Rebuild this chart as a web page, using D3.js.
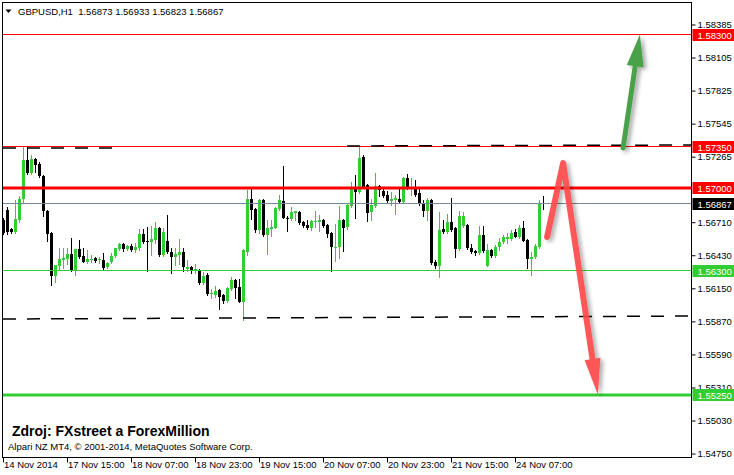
<!DOCTYPE html>
<html><head><meta charset="utf-8">
<script src="https://cdn.jsdelivr.net/npm/d3@7"></script>
<style>html,body{margin:0;padding:0;background:#fff;} svg{display:block;font-family:"Liberation Sans",Arial,sans-serif;}</style>
</head><body><svg id="c" width="734" height="475"></svg>
<script>
// ---------- DATA ----------
const symbolTitle = "GBPUSD,H1";
const lastOHLC = [1.56873, 1.56933, 1.56823, 1.56867];

const openP = [
1.56729,1.56814,1.56653,1.56627,1.56729,1.56907,1.57237,1.57127,1.57246,1.57203,
1.57102,1.56805,1.56619,1.56254,1.56339,1.56390,1.56398,1.56441,1.56297,1.56483,
1.56424,1.56373,1.56390,1.56407,1.56390,1.56390,1.56331,1.56373,1.56424,1.56483,
1.56525,1.56483,1.56508,1.56475,1.56491,1.56610,1.56551,1.56542,1.56559,1.56661,
1.56432,1.56551,1.56458,1.56415,1.56432,1.56458,1.56314,1.56331,1.56297,1.56297,
1.56195,1.56263,1.56102,1.56093,1.56136,1.56093,1.56042,1.56144,1.56220,1.56161,
1.56034,1.56458,1.56907,1.56822,1.56644,1.56898,1.56602,1.56653,1.56661,1.56822,
1.56890,1.56746,1.56737,1.56788,1.56797,1.56712,1.56686,1.56661,1.56712,1.56712,
1.56729,1.56686,1.56619,1.56492,1.56500,1.56729,1.56669,1.56848,1.56992,1.56966,
1.57263,1.57025,1.56797,1.56848,1.57017,1.56975,1.56941,1.56890,1.56898,1.56907,
1.56881,1.57085,1.57000,1.57008,1.56958,1.56873,1.56805,1.56898,1.56373,1.56339,
1.56653,1.56627,1.56712,1.56661,1.56483,1.56678,1.56686,1.56492,1.56466,1.56449,
1.56602,1.56339,1.56475,1.56424,1.56500,1.56542,1.56568,1.56568,1.56627,1.56585,
1.56661,1.56559,1.56398,1.56415,1.56500,1.56873
];
const highP = [
1.56746,1.56839,1.56661,1.56898,1.56932,1.57347,1.57347,1.57280,1.57254,1.57220,
1.57110,1.56814,1.56627,1.56347,1.56491,1.56491,1.56491,1.56576,1.56483,1.56559,
1.56491,1.56475,1.56432,1.56415,1.56415,1.56449,1.56373,1.56449,1.56491,1.56534,
1.56534,1.56517,1.56525,1.56534,1.56653,1.56653,1.56669,1.56678,1.56712,1.56669,
1.56661,1.56771,1.56491,1.56491,1.56568,1.56492,1.56390,1.56339,1.56356,1.56314,
1.56288,1.56280,1.56144,1.56169,1.56144,1.56102,1.56161,1.56246,1.56229,1.56229,
1.56483,1.56983,1.56992,1.56831,1.56907,1.56907,1.56729,1.56729,1.56839,1.56941,
1.57186,1.56763,1.56839,1.56805,1.56805,1.56720,1.56729,1.56729,1.56805,1.56771,
1.56737,1.56695,1.56627,1.56695,1.56848,1.56737,1.56864,1.57051,1.57110,1.57356,
1.57280,1.57034,1.56907,1.57127,1.57025,1.57008,1.56975,1.56966,1.56941,1.56992,
1.57093,1.57119,1.57085,1.57068,1.57008,1.56898,1.56915,1.56907,1.56390,1.56797,
1.56729,1.56780,1.56915,1.56669,1.56805,1.56797,1.56695,1.56525,1.56475,1.56678,
1.56678,1.56525,1.56483,1.56517,1.56576,1.56602,1.56619,1.56644,1.56653,1.56686,
1.56720,1.56568,1.56458,1.56525,1.56898,1.56933
];
const lowP = [
1.56610,1.56610,1.56619,1.56619,1.56712,1.56881,1.57119,1.57119,1.57136,1.57093,
1.56763,1.56551,1.56178,1.56203,1.56305,1.56322,1.56356,1.56297,1.56263,1.56407,
1.56373,1.56364,1.56373,1.56373,1.56364,1.56314,1.56322,1.56364,1.56415,1.56475,
1.56466,1.56475,1.56466,1.56458,1.56475,1.56534,1.56297,1.56432,1.56534,1.56424,
1.56424,1.56449,1.56280,1.56347,1.56356,1.56297,1.56297,1.56280,1.56280,1.56186,
1.56186,1.56093,1.56068,1.56076,1.55975,1.56025,1.56034,1.56136,1.56068,1.56034,
1.55881,1.56432,1.56737,1.56627,1.56619,1.56593,1.56441,1.56593,1.56661,1.56814,
1.56746,1.56636,1.56729,1.56729,1.56695,1.56669,1.56653,1.56644,1.56669,1.56636,
1.56669,1.56585,1.56297,1.56381,1.56407,1.56466,1.56653,1.56839,1.56746,1.56958,
1.57000,1.56720,1.56729,1.56839,1.56932,1.56924,1.56873,1.56856,1.56780,1.56873,
1.56873,1.56992,1.56941,1.56932,1.56856,1.56763,1.56729,1.56356,1.56322,1.56246,
1.56619,1.56619,1.56636,1.56415,1.56475,1.56669,1.56483,1.56449,1.56432,1.56441,
1.56458,1.56339,1.56415,1.56415,1.56475,1.56534,1.56534,1.56559,1.56585,1.56576,
1.56551,1.56322,1.56263,1.56407,1.56492,1.56823
];
const closeP = [
1.56619,1.56627,1.56627,1.56737,1.56907,1.57237,1.57127,1.57246,1.57195,1.57102,
1.56805,1.56610,1.56254,1.56347,1.56398,1.56407,1.56441,1.56305,1.56483,1.56415,
1.56373,1.56398,1.56398,1.56381,1.56398,1.56322,1.56364,1.56424,1.56492,1.56525,
1.56483,1.56508,1.56475,1.56500,1.56610,1.56542,1.56542,1.56568,1.56661,1.56432,
1.56627,1.56458,1.56415,1.56441,1.56458,1.56331,1.56331,1.56297,1.56314,1.56195,
1.56254,1.56102,1.56110,1.56127,1.56076,1.56042,1.56153,1.56220,1.56153,1.56034,
1.56475,1.56907,1.56814,1.56644,1.56898,1.56602,1.56661,1.56669,1.56831,1.56898,
1.56746,1.56737,1.56797,1.56805,1.56704,1.56678,1.56661,1.56720,1.56720,1.56729,
1.56678,1.56610,1.56500,1.56500,1.56729,1.56661,1.56856,1.56992,1.56966,1.57254,
1.57008,1.56788,1.56856,1.57017,1.56983,1.56932,1.56890,1.56907,1.56915,1.56881,
1.57085,1.57000,1.57008,1.56941,1.56864,1.56805,1.56898,1.56364,1.56339,1.56644,
1.56630,1.56712,1.56644,1.56483,1.56763,1.56763,1.56492,1.56458,1.56449,1.56602,
1.56466,1.56475,1.56424,1.56500,1.56542,1.56585,1.56585,1.56619,1.56585,1.56661,
1.56551,1.56398,1.56415,1.56508,1.56864,1.56867
];

const timeTickBars = [0, 16, 32, 48, 64, 80, 96, 112, 128];
const timeTickLabels = ["14 Nov 2014","17 Nov 15:00","18 Nov 07:00","18 Nov 23:00","19 Nov 15:00","20 Nov 07:00","20 Nov 23:00","21 Nov 15:00","24 Nov 07:00"];
const priceTicks = [1.58385,1.58105,1.57825,1.57545,1.57265,1.56710,1.56430,1.56150,1.55870,1.55590,1.55310,1.55030,1.54750];

const levelPrices = [1.58300, 1.57350, 1.57000, 1.56300, 1.55250];
const bidPrice = 1.56867;

const trendStartBars   = [-0.5, 85.9, -0.5];
const trendStartPrices = [1.57339, 1.57356, 1.55890];
const trendEndBars     = [28.4, 171.9, 171.9];
const trendEndPrices   = [1.57339, 1.57364, 1.55915];

const greenArrowBars   = [154.9, 159.1];
const greenArrowPrices = [1.57339, 1.58300];
const redArrowBars     = [135.9, 139.9, 148.6];
const redArrowPrices   = [1.56585, 1.57211, 1.55250];

const sourceText = "Zdroj: FXstreet a ForexMillion";
const copyrightText = "Alpari NZ MT4, \u00A9 2001-2014, MetaQuotes Software Corp.";

// ---------- DRAW ----------
const svg = d3.select("#c");
const BULL = "#32cd32", BEAR = "#000000";
const plotL = 2.5, plotR = 691.5, plotT = 2.5, plotB = 457.5;

const defs = svg.append("defs");
const f = defs.append("filter").attr("id","sh").attr("x","-50%").attr("y","-50%").attr("width","200%").attr("height","200%");
f.append("feDropShadow").attr("dx",3).attr("dy",2).attr("stdDeviation",2).attr("flood-color","#000").attr("flood-opacity",0.35);

const n = openP.length;
const xb = d3.scaleBand().domain(d3.range(n)).range([1.5, 1.5 + 4 * n]).paddingInner(0.25).paddingOuter(0.125);
const xi = i => xb(0) + xb.bandwidth() / 2 + i * xb.step();
const y = d3.scaleLinear().domain([1.54721, 1.58567]).range([457, 3]);
const crisp = v => Math.floor(v) + 0.5;

const bars = d3.range(n).map(i => ({i, o: openP[i], h: highP[i], l: lowP[i], c: closeP[i]}));

// candles
const cg = svg.append("g");
const cand = cg.selectAll("g").data(bars).join("g");
cand.append("line")
  .attr("x1", d => xb(d.i) + 1.5).attr("x2", d => xb(d.i) + 1.5)
  .attr("y1", d => Math.round(y(d.h))).attr("y2", d => Math.round(y(d.l)) + 1)
  .attr("stroke", d => d.c >= d.o ? BULL : BEAR).attr("stroke-width", 1);
cand.append("rect")
  .attr("x", d => xb(d.i)).attr("width", xb.bandwidth())
  .attr("y", d => Math.round(y(Math.max(d.o, d.c))))
  .attr("height", d => Math.max(1, Math.round(y(Math.min(d.o, d.c))) - Math.round(y(Math.max(d.o, d.c)))))
  .attr("fill", d => d.c >= d.o ? BULL : BEAR);

// horizontal levels
const levelColors = ["#ff0000", "#ff0000", "#ff0000", "#32cd32", "#32cd32"];
const levelWidths = [1, 1, 3, 1, 3];
svg.append("g").selectAll("line").data(levelPrices).join("line")
  .attr("x1", 3).attr("x2", plotR)
  .attr("y1", (d, k) => levelWidths[k] === 1 ? crisp(y(d)) : Math.round(y(d)))
  .attr("y2", (d, k) => levelWidths[k] === 1 ? crisp(y(d)) : Math.round(y(d)))
  .attr("stroke", (d, k) => levelColors[k]).attr("stroke-width", (d, k) => levelWidths[k]);

// bid line
svg.append("line").attr("x1", 3).attr("x2", plotR)
  .attr("y1", crisp(y(bidPrice))).attr("y2", crisp(y(bidPrice)))
  .attr("stroke", "#778899").attr("stroke-width", 1);

// dashed trend lines
svg.append("g").selectAll("line").data(d3.range(trendStartBars.length)).join("line")
  .attr("x1", k => Math.max(3, xi(trendStartBars[k]))).attr("y1", k => y(trendStartPrices[k]))
  .attr("x2", k => Math.min(plotR, xi(trendEndBars[k]))).attr("y2", k => y(trendEndPrices[k]))
  .attr("stroke", "#000").attr("stroke-width", 1.5).attr("stroke-dasharray", "13,11");

// frame
svg.append("rect").attr("x", plotL).attr("y", plotT).attr("width", plotR - plotL).attr("height", plotB - plotT)
  .attr("fill", "none").attr("stroke", "#000").attr("stroke-width", 1);

// price axis
const ay = svg.append("g").attr("transform", `translate(${plotR},0)`)
  .call(d3.axisRight(y).tickValues(priceTicks).tickSize(4).tickSizeOuter(0).tickPadding(2).tickFormat(d3.format(".5f")));
ay.select(".domain").remove();
ay.selectAll(".tick line").attr("stroke", "#000");
ay.selectAll(".tick text").attr("font-family", "Liberation Sans, Arial, sans-serif").attr("font-size", "9.5px").attr("fill", "#000");

// time axis
const tg = svg.append("g");
tg.selectAll("line").data(timeTickBars).join("line")
  .attr("x1", d => Math.floor(xi(d)) + 0.5).attr("x2", d => Math.floor(xi(d)) + 0.5)
  .attr("y1", plotB).attr("y2", plotB + 5).attr("stroke", "#000");
tg.selectAll("text").data(timeTickBars).join("text")
  .attr("x", d => Math.floor(xi(d)) + 1).attr("y", 468)
  .attr("font-size", "9.5px").attr("fill", "#000")
  .text((d, k) => timeTickLabels[k]);

// price label boxes
const boxPrices = levelPrices.concat([bidPrice]);
const boxColors = levelColors.concat(["#000000"]);
const bl = svg.append("g").selectAll("g").data(boxPrices).join("g");
bl.append("rect").attr("x", plotR + 1).attr("width", 734 - plotR)
  .attr("y", d => Math.round(y(d)) - 6).attr("height", 12)
  .attr("fill", (d, k) => boxColors[k]);
bl.append("text").attr("x", plotR + 6).attr("y", d => Math.round(y(d)) + 3.5)
  .attr("font-size", "9.5px").attr("fill", "#fff").text(d => d3.format(".5f")(d));

// header
svg.append("path").attr("d", "M5.5,9.5 L11.5,9.5 L8.5,13 Z").attr("fill", "#000");
svg.append("text").attr("x", 18).attr("y", 15).attr("font-size", "9.5px").attr("fill", "#000")
  .attr("xml:space", "preserve").style("white-space", "pre")
  .text(symbolTitle + "  " + lastOHLC.map(d3.format(".5f")).join(" "));

// footer texts
svg.append("text").attr("x", 12).attr("y", 436).attr("font-size", "14px").attr("font-weight", "bold")
  .attr("fill", "#000").text(sourceText);
svg.append("text").attr("x", 8).attr("y", 450).attr("font-size", "9.5px").attr("fill", "#000").text(copyrightText);

// arrows
function drawArrow(g, pts, color, width, headLen, headW) {
  const P = pts[pts.length - 1], Q = pts[pts.length - 2];
  const dx = P[0] - Q[0], dy = P[1] - Q[1], d = Math.hypot(dx, dy);
  const ux = dx / d, uy = dy / d, nx = -uy, ny = ux;
  const B = [P[0] - ux * headLen, P[1] - uy * headLen];
  const shaft = pts.slice(0, -1).concat([[B[0] + ux * 2, B[1] + uy * 2]]);
  g.append("path").attr("d", d3.line()(shaft)).attr("fill", "none").attr("stroke", color)
    .attr("stroke-width", width).attr("stroke-linecap", "round").attr("stroke-linejoin", "round");
  g.append("path").attr("d", d3.line()([P, [B[0] + nx * headW / 2, B[1] + ny * headW / 2], [B[0] - nx * headW / 2, B[1] - ny * headW / 2]]) + "Z")
    .attr("fill", color);
}
const ga = svg.append("g").attr("filter", "url(#sh)");
drawArrow(ga, greenArrowBars.map((b, k) => [xi(b), y(greenArrowPrices[k])]), "#4aa24a", 5, 32, 17);
const ra = svg.append("g").attr("filter", "url(#sh)").attr("opacity", 0.9);
drawArrow(ra, redArrowBars.map((b, k) => [xi(b), y(redArrowPrices[k])]), "#ff4545", 6, 36, 16);
</script>
</body></html>
